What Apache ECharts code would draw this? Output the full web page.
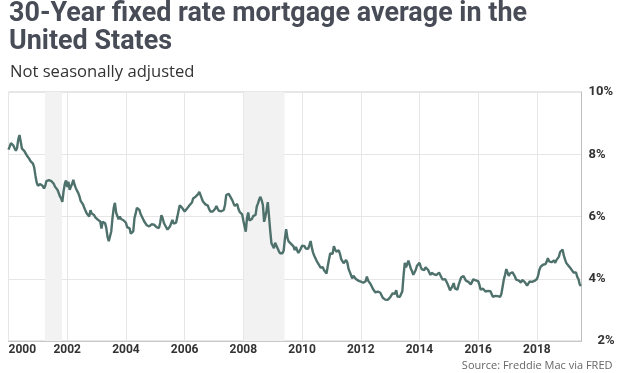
<!DOCTYPE html>
<html><head><meta charset="utf-8">
<script src="https://cdn.jsdelivr.net/npm/echarts@6/dist/echarts.min.js"></script>
<style>html,body{margin:0;padding:0;background:#fff}#c{width:621px;height:373px}</style>
</head><body><div id="c"></div>
<script>
// Semi-monthly readings (1st half, 2nd half of each month), % rate
const r2000 = [8.15,8.25,8.36,8.31,8.28,8.19,8.11,8.20,8.48,8.62,8.40,8.18,8.20,8.10,8.03,7.96,7.90,7.85,7.78,7.74,7.70,7.58,7.32,7.10];
const r2001 = [6.99,6.95,7.04,7.08,6.98,6.90,6.98,7.14,7.14,7.17,7.16,7.14,7.19,7.05,6.96,6.93,6.86,6.76,6.65,6.58,6.47,6.80,7.05,7.16];
const r2002 = [6.95,7.12,6.86,6.92,7.05,7.18,7.02,6.92,6.83,6.76,6.65,6.50,6.44,6.38,6.27,6.22,6.10,6.05,6.00,6.20,6.10,6.05,6.05,5.97];
const r2003 = [5.93,5.90,5.85,5.84,5.61,5.83,5.86,5.78,5.62,5.34,5.21,5.26,5.52,5.94,6.27,6.44,6.12,6.06,5.91,6.00,5.92,5.95,5.88,5.85];
const r2004 = [5.80,5.66,5.60,5.62,5.45,5.40,5.52,5.95,6.10,6.28,6.34,6.21,6.08,6.04,5.92,5.84,5.78,5.72,5.72,5.68,5.69,5.75,5.76,5.74];
const r2005 = [5.77,5.66,5.62,5.63,5.79,6.04,5.95,5.80,5.72,5.68,5.58,5.55,5.68,5.73,5.89,5.77,5.75,5.80,5.98,6.18,6.36,6.30,6.28,6.22];
const r2006 = [6.16,6.12,6.26,6.29,6.36,6.36,6.45,6.58,6.59,6.64,6.68,6.72,6.79,6.74,6.58,6.48,6.43,6.39,6.36,6.35,6.24,6.16,6.12,6.16];
const r2007 = [6.20,6.25,6.34,6.25,6.18,6.14,6.17,6.20,6.21,6.37,6.69,6.74,6.73,6.66,6.59,6.52,6.42,6.34,6.38,6.40,6.24,6.15,6.11,6.07];
const r2008 = [5.87,5.69,5.51,5.95,6.13,5.87,5.85,5.92,6.01,6.03,6.05,6.32,6.42,6.55,6.63,6.52,6.37,5.83,5.99,6.20,6.46,6.00,5.53,5.14];
const r2009 = [5.10,4.98,5.16,5.07,5.03,4.89,4.82,4.80,4.82,4.91,5.29,5.59,5.32,5.20,5.25,5.12,5.07,5.04,4.92,5.02,4.91,4.83,4.78,4.97];
const r2010 = [5.06,5.00,5.05,4.97,4.99,4.96,5.08,5.21,5.00,4.84,4.74,4.69,4.57,4.54,4.44,4.36,4.35,4.37,4.27,4.21,4.17,4.40,4.61,4.81];
const r2011 = [4.77,4.80,5.05,4.95,4.87,4.81,4.91,4.80,4.63,4.61,4.50,4.50,4.60,4.52,4.32,4.22,4.12,4.01,4.10,4.11,3.99,4.00,3.94,3.95];
const r2012 = [3.91,3.92,3.87,3.90,3.92,4.07,3.94,3.88,3.83,3.77,3.67,3.66,3.56,3.50,3.59,3.64,3.55,3.49,3.39,3.41,3.33,3.32,3.32,3.36];
const r2013 = [3.40,3.42,3.53,3.50,3.52,3.63,3.43,3.41,3.42,3.51,3.60,4.10,4.51,4.37,4.40,4.58,4.57,4.32,4.23,4.13,4.16,4.29,4.42,4.47];
const r2014 = [4.51,4.39,4.30,4.33,4.28,4.37,4.41,4.29,4.20,4.12,4.19,4.17,4.14,4.12,4.12,4.10,4.20,4.22,4.04,3.97,4.01,3.99,3.93,3.83];
const r2015 = [3.73,3.63,3.59,3.76,3.86,3.69,3.67,3.65,3.80,3.85,4.04,3.98,4.09,4.04,3.94,3.93,3.90,3.86,3.82,3.76,3.98,3.97,3.95,4.01];
const r2016 = [3.92,3.81,3.65,3.62,3.68,3.73,3.59,3.59,3.61,3.58,3.60,3.54,3.42,3.45,3.45,3.43,3.44,3.48,3.42,3.52,3.57,3.98,4.13,4.31];
const r2017 = [4.20,4.09,4.17,4.16,4.21,4.23,4.08,3.97,4.02,3.95,3.91,3.88,3.96,3.96,3.90,3.86,3.78,3.83,3.91,3.94,3.90,3.92,3.93,3.99];
const r2018 = [3.99,4.10,4.28,4.38,4.44,4.45,4.42,4.47,4.55,4.66,4.56,4.57,4.53,4.52,4.59,4.51,4.60,4.65,4.71,4.86,4.87,4.94,4.75,4.62];
const r2019 = [4.51,4.45,4.41,4.35,4.31,4.28,4.20,4.17,4.20,4.06,3.99,3.82,3.77];

const years = [2000,2001,2002,2003,2004,2005,2006,2007,2008,2009,2010,2011,2012,2013,2014,2015,2016,2017,2018,2019];
const yearRates = [r2000,r2001,r2002,r2003,r2004,r2005,r2006,r2007,r2008,r2009,r2010,r2011,r2012,r2013,r2014,r2015,r2016,r2017,r2018,r2019];
const xTickLabels = [2000,2002,2004,2006,2008,2010,2012,2014,2016,2018];
const yTickLabels = [2,4,6,8,10];
const recessions = [[2001.24, 2001.82], [2008.02, 2009.40]];

const titleLine1 = '30-Year fixed rate mortgage average in the';
const titleLine2 = 'United States';
const subtitle = 'Not seasonally adjusted';
const source = 'Source: Freddie Mac via FRED';

const data = [];
years.forEach((y, k) => {
  yearRates[k].forEach((v, i) => data.push([y + i / 24, v]));
});

const ctx = document.createElement('canvas').getContext('2d');
ctx.font = 'bold 28px Roboto';
const sx = 518 / ctx.measureText(titleLine1).width;

const chart = echarts.init(document.getElementById('c'), null, {renderer: 'canvas'});
chart.setOption({
  animation: false,
  backgroundColor: '#fff',
  grid: {left: 8.5, right: 39.5, top: 92, bottom: 32, show: true, borderColor: '#cfcfcf', borderWidth: 1},
  xAxis: {
    type: 'value', min: xTickLabels[0], max: 2019.52, interval: 2,
    axisLine: {show: true, lineStyle: {color: '#c8c8c8'}},
    axisTick: {show: false},
    splitLine: {show: true, lineStyle: {color: '#e6e6e6', width: 1}},
    axisLabel: {
      showMaxLabel: false, alignMinLabel: 'left', margin: 3,
      fontFamily: 'Roboto', fontWeight: 'bold', fontSize: 12, color: '#333',
      formatter: v => xTickLabels.includes(v) ? String(v) : ''
    }
  },
  yAxis: {
    type: 'value', position: 'right', min: yTickLabels[0], max: yTickLabels[yTickLabels.length - 1], interval: 2,
    axisLine: {show: true, lineStyle: {color: '#bdbdbd'}},
    axisTick: {show: false},
    splitLine: {show: true, lineStyle: {color: '#e6e6e6', width: 1}},
    axisLabel: {
      margin: 7, fontFamily: 'Roboto', fontWeight: 'bold', fontSize: 13, color: '#333',
      formatter: v => v === yTickLabels[0] ? '{low|' + v + '%}' : v + '%',
      rich: {low: {padding: [0, 0, 0, 9], fontFamily: 'Roboto', fontWeight: 'bold', fontSize: 13, color: '#333'}}
    }
  },
  series: [{
    type: 'line', data: data, showSymbol: false, smooth: false,
    lineStyle: {color: '#4e716c', width: 2.4},
    markArea: {
      silent: true,
      itemStyle: {color: '#f2f2f2'},
      data: recessions.map(r => [{xAxis: r[0]}, {xAxis: r[1]}])
    }
  }],
  graphic: [
    {type: 'text', x: 9, y: 14, scaleX: sx, style: {text: titleLine1, font: 'bold 28px Roboto', fill: '#484c57', verticalAlign: 'middle'}},
    {type: 'text', x: 9, y: 42, scaleX: sx, style: {text: titleLine2, font: 'bold 28px Roboto', fill: '#484c57', verticalAlign: 'middle'}},
    {type: 'text', x: 10, y: 72, style: {text: subtitle, font: '16.6px "Open Sans"', fill: '#333', verticalAlign: 'middle'}},
    {type: 'text', x: 612.5, y: 366, style: {text: source, font: '11px "Open Sans"', fill: '#666', align: 'right', verticalAlign: 'middle'}}
  ]
});
</script></body></html>
